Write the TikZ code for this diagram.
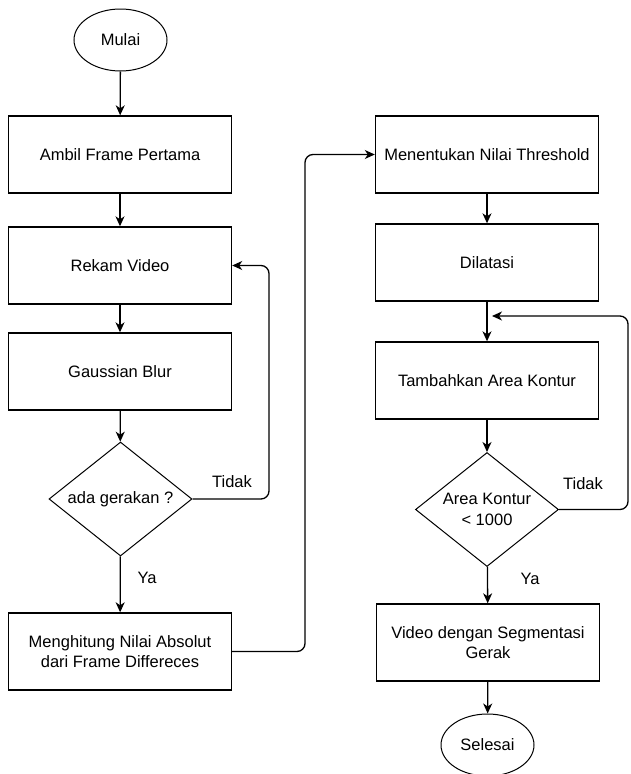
\documentclass[tikz,border=0pt]{standalone}
\usepackage{fontspec}
\setmainfont{Liberation Sans}
\usetikzlibrary{shapes.geometric,arrows.meta}
\begin{document}
\begin{tikzpicture}[x=1pt,y=-1pt,
  every node/.style={font=\fontsize{16.5}{20.5}\selectfont, text=black, inner sep=0pt},
  box/.style={draw, line width=1.4pt, minimum width=223pt, minimum height=77pt, align=center},
  term/.style={draw, ellipse, line width=1pt, minimum width=93pt, minimum height=62pt},
  decide/.style={draw, diamond, line width=1pt, aspect=1.25, minimum width=143pt, minimum height=114pt, align=center},
  conn/.style={line width=1.3pt, -{Stealth[length=10pt,width=9pt,inset=3pt]}, rounded corners=8pt},
  lab/.style={anchor=center}
]
\useasboundingbox (0,0) rectangle (630,774);

% left column
\node[term]   (mulai)  at (120.5,40)   {Mulai};
\node[box]    (ambil)  at (120,154.5)  {Ambil Frame Pertama};
\node[box]    (rekam)  at (120,265.5)  {Rekam Video};
\node[box]    (gauss)  at (120,371.5)  {Gaussian Blur};
\node[decide] (ada)    at (120.5,499)  {ada gerakan ?};
\node[box]    (hitung) at (120,651.5)  {Menghitung Nilai Absolut\\dari Frame Differeces};

% right column
\node[box]    (tentu)  at (487,154.5)  {Menentukan Nilai Threshold};
\node[box]    (dilat)  at (487,262.5)  {Dilatasi};
\node[box]    (tamb)   at (487,380.5)  {Tambahkan Area Kontur};
\node[decide] (area)   at (487,509.5)  {Area Kontur\\< 1000};
\node[box]    (video)  at (488,642.5)  {Video dengan Segmentasi\\Gerak};
\node[term]   (selesai) at (487.5,745) {Selesai};

% labels
\node[lab] (tidak1) at (232,482) {Tidak};
\node[lab] (ya1)    at (147,578) {Ya};
\node[lab] (tidak2) at (583,484) {Tidak};
\node[lab] (ya2)    at (530,579) {Ya};

\coordinate (loopin) at (492,316);

% connectors
\draw[conn] (mulai) -- (ambil);
\draw[conn] (ambil) -- (rekam);
\draw[conn] (rekam) -- (gauss);
\draw[conn] (gauss) -- (ada);
\draw[conn] (ada) -- (hitung);
\draw[conn] (ada.east) -- (269,499) -- (269,265.5) -- (rekam.east);
\draw[conn] (hitung.east) -- (305,651.5) -- (305,154.5) -- (tentu.west);
\draw[conn] (tentu) -- (dilat);
\draw[conn] (dilat) -- (tamb);
\draw[conn] (tamb) -- (area);
\draw[conn] (area) -- (video);
\draw[conn] (video) -- (selesai);
\draw[conn] (area.east) -- (628,509.5) -- (628,316) -- (loopin);
\end{tikzpicture}
\end{document}
